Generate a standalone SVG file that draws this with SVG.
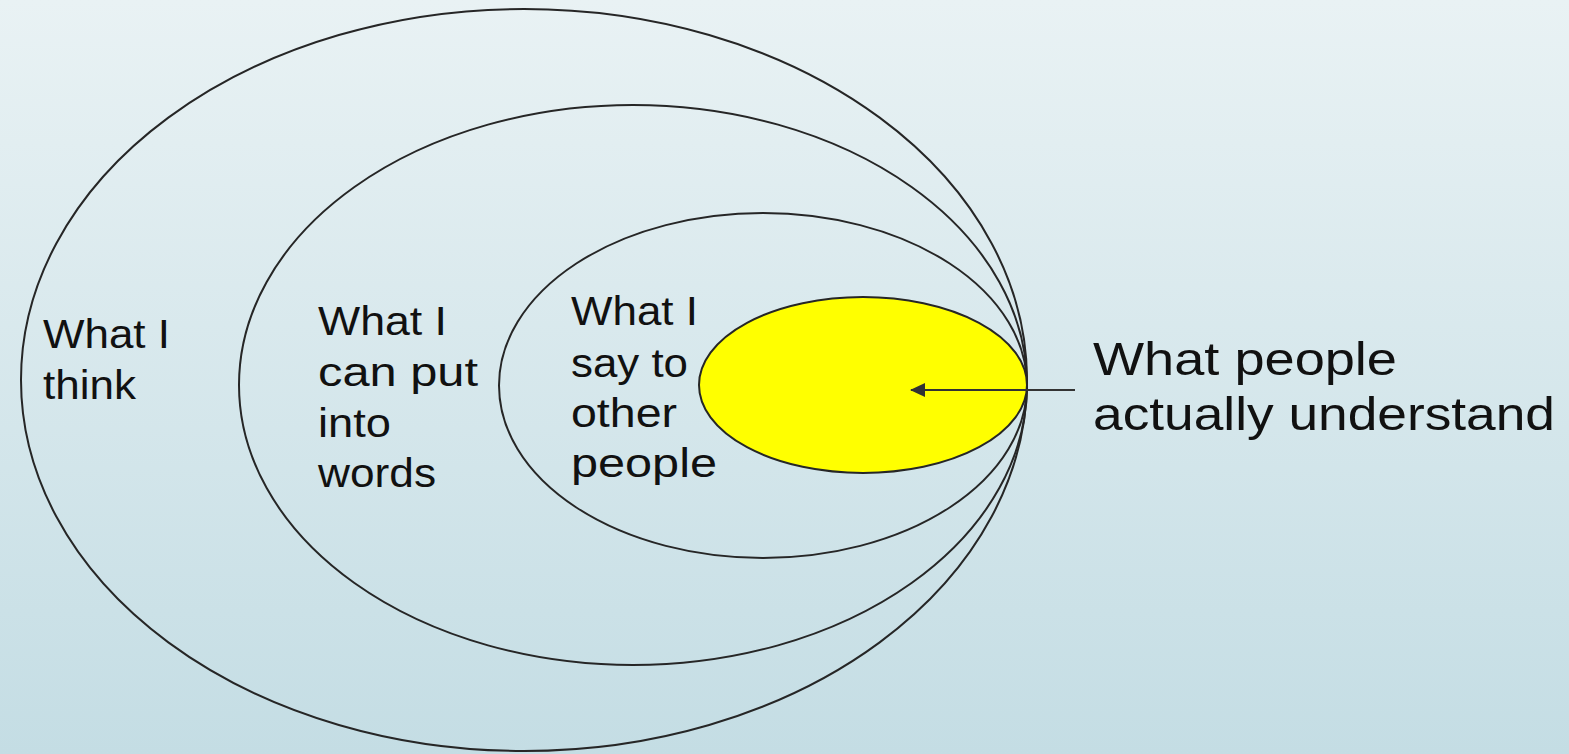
<svg xmlns="http://www.w3.org/2000/svg" width="1569" height="754" viewBox="0 0 1569 754">
<defs>
<linearGradient id="bg" x1="0" y1="0" x2="0" y2="1">
<stop offset="0" stop-color="#e9f2f4"/>
<stop offset="1" stop-color="#c4dde4"/>
</linearGradient>
<marker id="ah" markerWidth="15" markerHeight="14" refX="14" refY="7" orient="auto" markerUnits="userSpaceOnUse" viewBox="0 0 15 14">
<path d="M0,0 L15,7 L0,14 z" fill="#333"/>
</marker>
</defs>
<style>
.ring{fill:none;stroke:#262626;stroke-width:2}
.lbl{font-family:"Liberation Sans",Arial,sans-serif;font-size:40px;fill:#111}
.big{font-size:47px}
</style>
<rect width="1569" height="754" fill="url(#bg)"/>
<g id="think">
<ellipse class="ring" cx="524" cy="380" rx="503" ry="371"/>
<text class="lbl"><tspan x="43" y="348" textLength="127" lengthAdjust="spacingAndGlyphs">What I</tspan><tspan x="43" y="399" textLength="93" lengthAdjust="spacingAndGlyphs">think</tspan></text>
</g>
<g id="words">
<ellipse class="ring" cx="633" cy="385" rx="394" ry="280"/>
<text class="lbl"><tspan x="318" y="335" textLength="129" lengthAdjust="spacingAndGlyphs">What I</tspan><tspan x="318" y="386" textLength="160" lengthAdjust="spacingAndGlyphs">can put</tspan><tspan x="318" y="437" textLength="73" lengthAdjust="spacingAndGlyphs">into</tspan><tspan x="318" y="487" textLength="118" lengthAdjust="spacingAndGlyphs">words</tspan></text>
</g>
<g id="say">
<ellipse class="ring" cx="763" cy="385.5" rx="264" ry="172.5"/>
<text class="lbl"><tspan x="571" y="325" textLength="127" lengthAdjust="spacingAndGlyphs">What I</tspan><tspan x="571" y="377" textLength="117" lengthAdjust="spacingAndGlyphs">say to</tspan><tspan x="571" y="427" textLength="106" lengthAdjust="spacingAndGlyphs">other</tspan><tspan x="571" y="477" textLength="146" lengthAdjust="spacingAndGlyphs">people</tspan></text>
</g>
<g id="understand">
<ellipse cx="863" cy="385" rx="164" ry="88" fill="#ffff00" stroke="#262626" stroke-width="2"/>
<text class="lbl big"><tspan x="1093" y="375" textLength="304" lengthAdjust="spacingAndGlyphs">What people</tspan><tspan x="1093" y="430" textLength="462" lengthAdjust="spacingAndGlyphs">actually understand</tspan></text>
</g>
<g id="connectors">
<line x1="1075" y1="390" x2="911" y2="390" stroke="#333" stroke-width="2" marker-end="url(#ah)"/>
</g>
</svg>
